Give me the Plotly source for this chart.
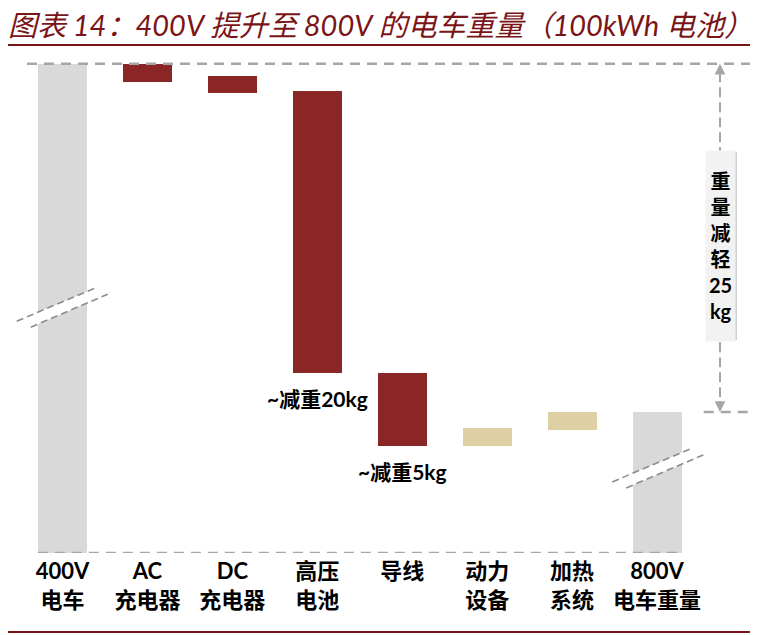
import plotly.graph_objects as go

# categories (two-line tick labels)
categories = ["400V<br>电车", "AC<br>充电器", "DC<br>充电器", "高压<br>电池",
              "导线", "动力<br>设备", "加热<br>系统", "800V<br>电车重量"]
# floating bars, in kg above the (broken) axis base
bar_base = [0, 33.4, 32.6, 12.8, 7.6, 7.6, 8.7, 0]
bar_size = [34.7, 1.3, 1.2, 20.0, 5.2, 1.3, 1.3, 10.0]
bar_kind = ["total", "down", "down", "down", "down", "up", "up", "total"]
step_labels = {3: "~减重20kg", 4: "~减重5kg"}
saving_text = ["重", "量", "减", "轻", "25", "kg"]

colors = {"total": "#D9D9D9", "down": "#8B2627", "up": "#DFCFA5"}
GRAY = "#A6A6A6"
DARKRED = "#7B1416"
FONT = "Lato, Noto Sans CJK SC, sans-serif"

W, H = 758, 635
OFF = 8  # page body margin, the figure is drawn 8px in from the corner

# pixel scale of the axes (used only for decoration offsets)
PX_X = 84.93
PX_Y = 14.1
X0_PX = 62.5        # centre of first category on screen
Y0_PX = 553         # axis base on screen
X_RANGE = [(OFF - X0_PX) / PX_X, (OFF + W - X0_PX) / PX_X]
plot_h = (Y0_PX - OFF) - (50 - OFF)
Y_RANGE = [0, plot_h / PX_Y]

top = bar_base[0] + bar_size[0]
end = bar_base[-1] + bar_size[-1]

fig = go.Figure()
fig.add_trace(go.Bar(
    x=list(range(len(categories))), y=bar_size, base=bar_base,
    width=0.577, marker=dict(color=[colors[k] for k in bar_kind], line=dict(width=0)),
    hoverinfo="skip", showlegend=False
))

shapes = []
annotations = []

# dashed reference lines
dash_line = dict(color=GRAY, width=2.3, dash="10px,7px")
shapes.append(dict(type="line", xref="x", yref="y", x0=-0.418, x1=X_RANGE[1],
                   y0=top, y1=top, line=dash_line, layer="above"))
shapes.append(dict(type="line", xref="x", yref="y", x0=-0.29, x1=7.29,
                   y0=0, y1=0, line=dash_line, layer="above"))
shapes.append(dict(type="line", xref="x", yref="y", x0=7.55, x1=X_RANGE[1],
                   y0=end, y1=end, line=dash_line, layer="above"))

# vertical double arrow for the weight saving
xa = 7.0 + 63 / PX_X
shapes.append(dict(type="line", xref="x", yref="y", x0=xa, x1=xa,
                   y0=top - 0.6, y1=end + 0.6, line=dict(color=GRAY, width=2, dash="10px,5px")))
for tip, ay in [(top, 12), (end, -12)]:
    annotations.append(dict(x=xa, y=tip, xref="x", yref="y", ax=0, ay=ay, text="",
                            showarrow=True, arrowhead=2, arrowsize=1.2, arrowwidth=1.8,
                            arrowcolor=GRAY))

# break marks on the total bars
def break_mark(xc, yc):
    def p(dx, dy):
        return xc + dx / PX_X, yc - dy / PX_Y
    a1, b1 = p(-45.75, 13.5), p(32.25, -19.5)
    a2, b2 = p(-31.75, 19.5), p(45.25, -13.5)
    path = "M {} {} L {} {} L {} {} L {} {} Z".format(*a1, *b1, *b2, *a2)
    shapes.append(dict(type="path", xref="x", yref="y", path=path,
                       fillcolor="white", line=dict(width=0), layer="above"))
    for a, b in [(a1, b1), (a2, b2)]:
        shapes.append(dict(type="line", xref="x", yref="y", x0=a[0], y0=a[1], x1=b[0], y1=b[1],
                           line=dict(color="#8C8C8C", width=1.6, dash="7px,4px"), layer="above"))

break_mark(0, 17.4)
break_mark(7 + 1 / PX_X, 6.0)

# step labels under the big drops
for i, txt in step_labels.items():
    annotations.append(dict(x=i, y=bar_base[i], xref="x", yref="y", yshift=-26,
                            text="<b>" + txt + "</b>", showarrow=False,
                            font=dict(family=FONT, size=21, color="black")))

# saving label box with shadow
yc = 21.77
shapes.append(dict(type="rect", xref="x", yref="y",
                   x0=xa - 13 / PX_X, x1=xa + 17 / PX_X,
                   y0=yc - 94 / PX_Y, y1=yc + 94 / PX_Y,
                   fillcolor="#BDBDBD", opacity=0.7, line=dict(width=0), layer="above"))
annotations.append(dict(x=xa, y=yc, xref="x", yref="y",
                        text="<b>" + "<br>".join(saving_text) + "</b>", showarrow=False,
                        width=27, height=188, bgcolor="#F2F2F2", borderpad=1,
                        font=dict(family=FONT, size=20, color="black")))

# title rule and bottom rule (screen y 45 and 632)
for y_px in (45, 632):
    yp = (Y0_PX - y_px) / plot_h
    shapes.append(dict(type="line", xref="paper", yref="paper", x0=-0.02, x1=1.02,
                       y0=yp, y1=yp, line=dict(color=DARKRED, width=2)))

fig.update_layout(
    title=dict(text="图表 14：400V 提升至 800V 的电车重量（100kWh 电池）",
               x=0, xanchor="left", xref="container",
               y=1 - (26 - OFF) / H, yanchor="middle", yref="container",
               font=dict(family=FONT, size=29, color=DARKRED, style="italic")),
    width=W, height=H,
    margin=dict(l=0, r=0, t=50 - OFF, b=H - (Y0_PX - OFF)),
    plot_bgcolor="white", paper_bgcolor="white",
    shapes=shapes, annotations=annotations,
    xaxis=dict(range=X_RANGE, tickvals=list(range(len(categories))), ticktext=categories,
               showgrid=False, zeroline=False, showline=False, ticks="",
               ticklabelstandoff=3,
               tickfont=dict(family=FONT, size=22, color="black", weight="bold"),
               fixedrange=True),
    yaxis=dict(range=Y_RANGE, visible=False, fixedrange=True),
    bargap=0,
)

fig.write_html("out.html")
